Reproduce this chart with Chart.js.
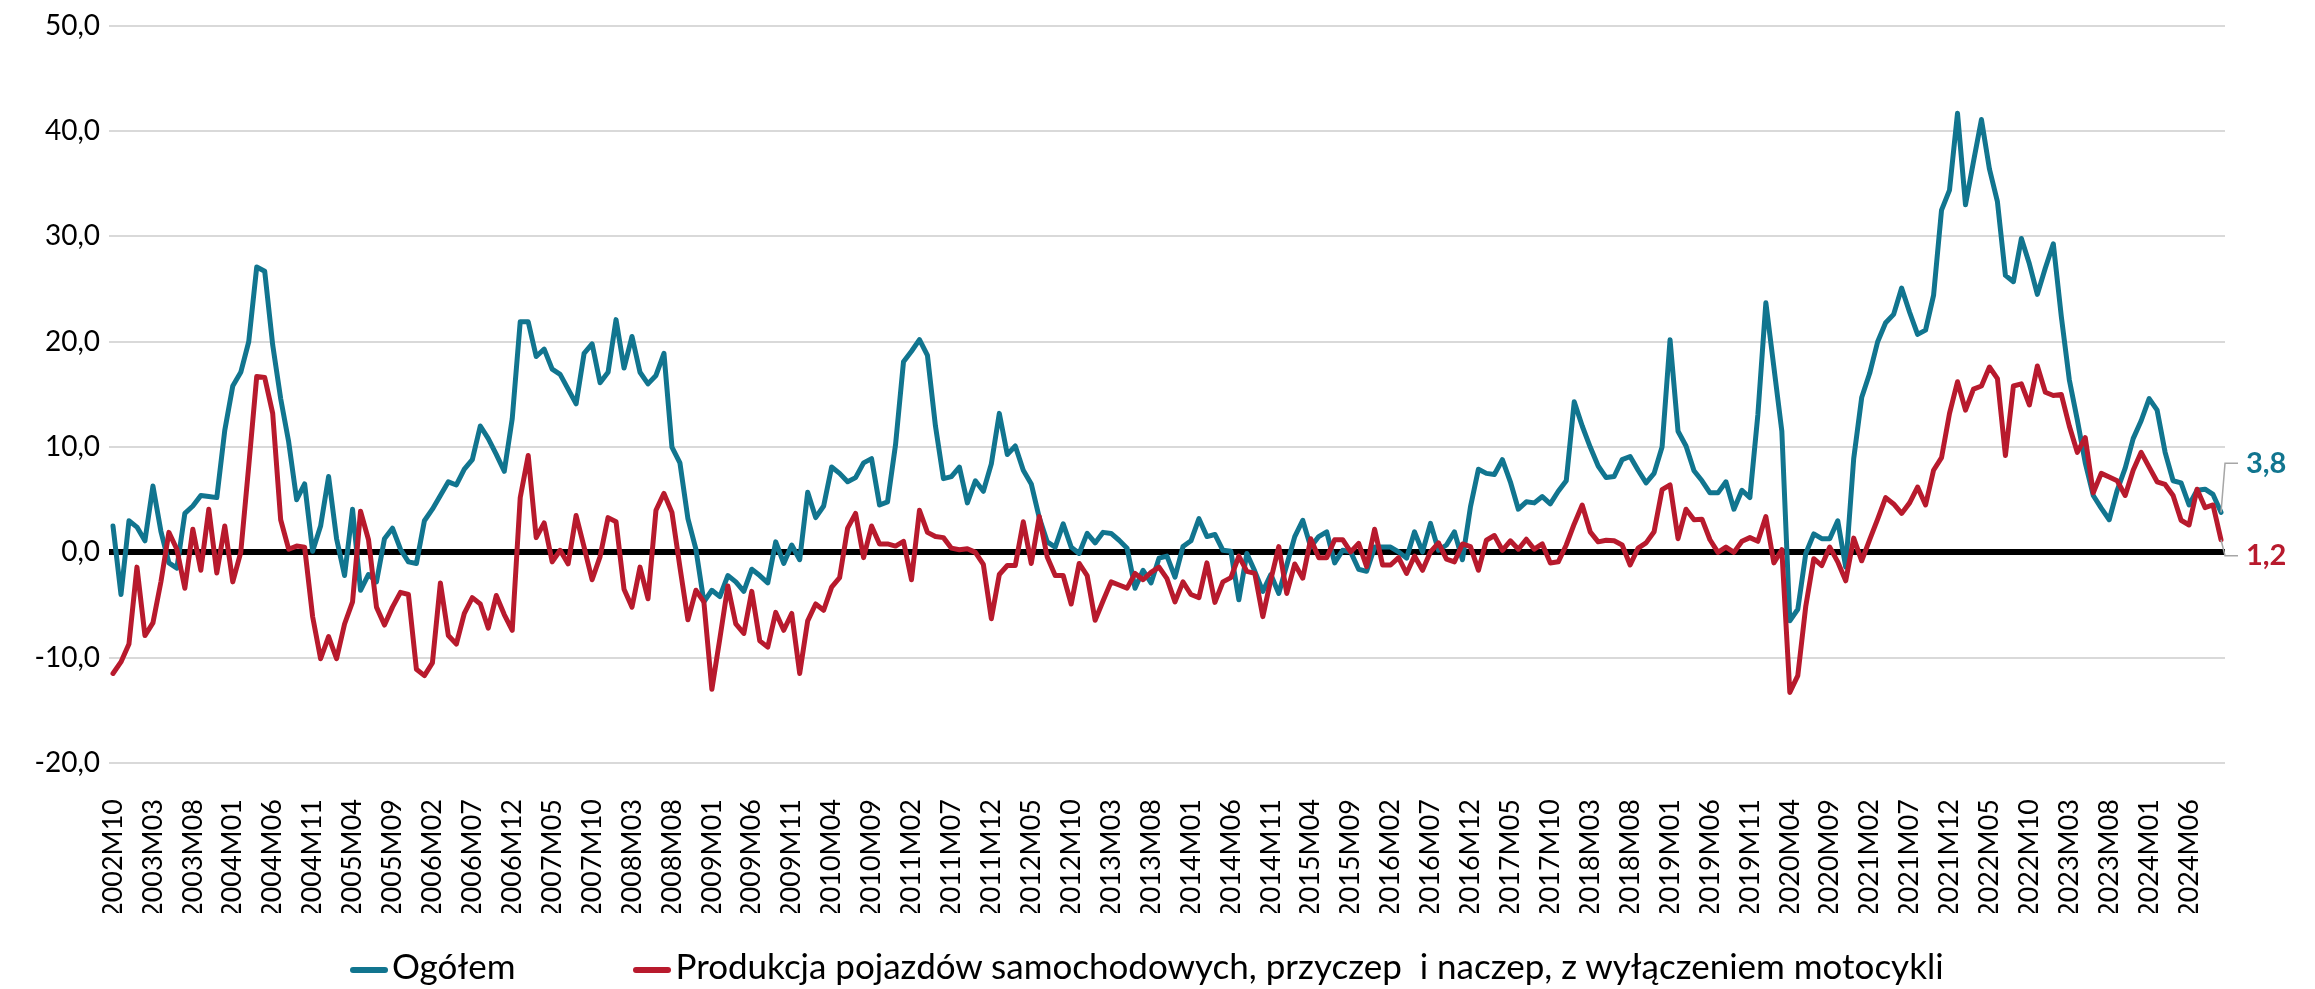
<!DOCTYPE html>
<html lang="pl">
<head>
<meta charset="UTF-8">
<title>Produkcja – dynamika r/r</title>
<script src="https://cdn.jsdelivr.net/npm/chart.js@4.4.1/dist/chart.umd.min.js"></script>
<style>
  html, body { margin: 0; padding: 0; background: #fff; }
  #wrap { position: relative; width: 2315px; height: 989px; }
  #legend {
    position: absolute; left: 350px; top: 943px;
    font-family: Lato, sans-serif; font-size: 35px; color: #000;
    white-space: pre; line-height: 44px;
  }
  .item { display: inline-block; }
  .item + .item { margin-left: 118px; }
  .swatch { display: inline-block; width: 38px; height: 6px; border-radius: 3px; vertical-align: middle; margin-right: 4px; }
</style>
</head>
<body>
<div id="wrap">
  <canvas id="chart" width="2315" height="989"></canvas>
  <div id="legend"></div>
</div>
<script>
// pierwszy miesiąc szeregu
const startYear = 2002;
const startMonth = 10;

// Ogółem, r/r w %
const ogolem = [
  2.5, -4.0, 3.0, 2.4, 1.1, 6.3, 2.0, -1.0, -1.5, 3.7,
  4.4, 5.4, 5.3, 5.2, 11.6, 15.8, 17.1, 20.0, 27.1, 26.7,
  19.7, 14.6, 10.5, 5.0, 6.5, 0.1, 2.5, 7.2, 1.3, -2.2,
  4.1, -3.6, -2.1, -2.8, 1.3, 2.3, 0.3, -0.9, -1.05, 3.0,
  4.1, 5.4, 6.7, 6.4, 7.9, 8.8, 12.0, 10.8, 9.3, 7.7,
  12.7, 21.9, 21.9, 18.6, 19.3, 17.4, 16.9, 15.5, 14.1, 18.9,
  19.8, 16.1, 17.1, 22.1, 17.5, 20.5, 17.1, 16.0, 16.8, 18.9,
  10.0, 8.5, 3.2, 0.3, -4.7, -3.6, -4.2, -2.2, -2.8, -3.7,
  -1.6, -2.2, -2.9, 1.0, -1.05, 0.7, -0.7, 5.7, 3.3, 4.4,
  8.1, 7.5, 6.7, 7.1, 8.5, 8.9, 4.5, 4.8, 10.2, 18.1,
  19.1, 20.2, 18.7, 12.0, 7.0, 7.2, 8.1, 4.7, 6.8, 5.8,
  8.4, 13.2, 9.3, 10.1, 7.8, 6.5, 3.3, 1.0, 0.5, 2.7,
  0.5, -0.1, 1.8, 0.9, 1.9, 1.8, 1.15, 0.4, -3.4, -1.7,
  -2.9, -0.55, -0.35, -2.35, 0.55, 1.1, 3.2, 1.5, 1.7, 0.2,
  0.1, -4.5, -0.1, -1.8, -3.7, -2.1, -3.9, -1.2, 1.5, 3.05,
  0.5, 1.5, 1.95, -1.0, 0.2, 0.05, -1.6, -1.8, 0.5, 0.5,
  0.5, 0.05, -0.55, 1.95, 0.05, 2.75, 0.2, 0.7, 1.95, -0.7,
  4.3, 7.9, 7.5, 7.4, 8.8, 6.7, 4.1, 4.8, 4.7, 5.3,
  4.6, 5.8, 6.8, 14.3, 12.0, 10.0, 8.2, 7.1, 7.2, 8.8,
  9.1, 7.8, 6.6, 7.5, 10.0, 20.2, 11.5, 10.1, 7.75, 6.8,
  5.65, 5.65, 6.7, 4.1, 5.9, 5.2, 13.1, 23.7, 17.6, 11.5,
  -6.5, -5.4, -0.1, 1.75, 1.3, 1.3, 3.0, -1.4, 8.9, 14.7,
  17.0, 20.0, 21.8, 22.6, 25.1, 22.8, 20.7, 21.1, 24.4, 32.5,
  34.4, 41.7, 33.0, 37.1, 41.1, 36.4, 33.3, 26.3, 25.7, 29.8,
  27.4, 24.5, 27.0, 29.3, 22.4, 16.4, 12.6, 8.5, 5.4, 4.2,
  3.1, 5.9, 8.0, 10.8, 12.5, 14.6, 13.5, 9.5, 6.8, 6.6,
  4.5, 5.9, 6.0, 5.5, 3.8
];

// Produkcja pojazdów samochodowych, przyczep i naczep, r/r w %
const pojazdy = [
  -11.5, -10.4, -8.7, -1.4, -7.9, -6.7, -2.8, 1.9, 0.3, -3.4,
  2.2, -1.7, 4.1, -1.95, 2.5, -2.8, 0.0, 8.2, 16.7, 16.6,
  13.2, 3.1, 0.3, 0.6, 0.5, -6.1, -10.1, -8.0, -10.1, -6.8,
  -4.7, 3.9, 1.2, -5.2, -6.9, -5.2, -3.8, -4.0, -11.1, -11.7,
  -10.5, -2.9, -7.9, -8.7, -5.8, -4.3, -4.9, -7.2, -4.1, -5.9,
  -7.4, 5.2, 9.2, 1.4, 2.8, -0.9, 0.2, -1.1, 3.5, 0.5,
  -2.6, -0.4, 3.3, 2.9, -3.5, -5.2, -1.4, -4.4, 4.0, 5.6,
  3.8, -1.4, -6.4, -3.6, -4.7, -13.0, -8.2, -3.2, -6.8, -7.7,
  -3.7, -8.4, -9.0, -5.7, -7.4, -5.8, -11.5, -6.5, -4.9, -5.5,
  -3.3, -2.4, 2.3, 3.7, -0.5, 2.5, 0.8, 0.8, 0.6, 1.05,
  -2.6, 4.0, 1.9, 1.5, 1.4, 0.4, 0.25, 0.35, 0.0, -1.15,
  -6.3, -2.1, -1.25, -1.25, 2.9, -1.05, 3.4, -0.45, -2.2, -2.2,
  -4.9, -1.05, -2.2, -6.45, -4.6, -2.8, -3.1, -3.4, -2.0, -2.6,
  -1.9, -1.4, -2.5, -4.7, -2.8, -4.0, -4.3, -1.0, -4.75, -2.8,
  -2.4, -0.35, -1.8, -2.0, -6.1, -2.6, 0.55, -3.9, -1.1, -2.45,
  1.3, -0.5, -0.5, 1.2, 1.2, 0.05, 0.85, -1.35, 2.2, -1.2,
  -1.2, -0.5, -2.0, -0.35, -1.7, 0.05, 0.9, -0.65, -0.9, 0.8,
  0.55, -1.7, 1.15, 1.6, 0.2, 1.1, 0.3, 1.25, 0.3, 0.8,
  -1.0, -0.9, 0.7, 2.7, 4.5, 1.95, 1.0, 1.15, 1.1, 0.7,
  -1.2, 0.4, 0.9, 1.95, 5.95, 6.4, 1.3, 4.1, 3.1, 3.15,
  1.2, 0.0, 0.5, 0.0, 1.05, 1.4, 1.05, 3.4, -1.0, 0.25,
  -13.3, -11.7, -5.1, -0.6, -1.25, 0.5, -0.9, -2.7, 1.35, -0.8,
  1.2, 3.15, 5.2, 4.6, 3.7, 4.7, 6.2, 4.5, 7.8, 9.0,
  13.2, 16.2, 13.5, 15.5, 15.8, 17.6, 16.5, 9.2, 15.8, 16.0,
  14.0, 17.7, 15.2, 14.9, 15.0, 12.0, 9.5, 10.9, 5.65, 7.5,
  7.15, 6.8, 5.4, 7.8, 9.5, 8.1, 6.7, 6.45, 5.4, 3.05,
  2.6, 6.0, 4.25, 4.5, 1.2
];

const seriesNames = ['Ogółem', 'Produkcja pojazdów samochodowych, przyczep  i naczep, z wyłączeniem motocykli'];
const seriesColors = ['#11758f', '#b81a2d'];
// czerwona seria rysowana na wierzchu
const seriesOrder = [1, 0];

// oś Y
const yMin = -20;
const yMax = 50;
const yStep = 10;

// co który miesiąc podpisywać oś X
const labelEvery = 5;

// przesunięcie etykiet końcowych względem ostatniego punktu (px)
const endLabelShift = [-49, 16];

function buildMonths(count) {
  const months = [];
  let y = startYear;
  let m = startMonth;
  for (let i = 0; i < count; i++) {
    months.push(y + 'M' + String(m).padStart(2, '0'));
    m++;
    if (m > 12) { m = 1; y++; }
  }
  return months;
}

function plNumber(v) {
  return v.toFixed(1).replace('.', ',');
}

// etykiety z ostatnią wartością + szara linia odniesienia
const endLabels = {
  id: 'endLabels',
  afterDatasetsDraw(chart) {
    const ctx = chart.ctx;
    const xs = chart.scales.x;
    const ys = chart.scales.y;
    ctx.save();
    chart.data.datasets.forEach((ds, i) => {
      const last = ds.data.length - 1;
      const px = xs.getPixelForValue(last);
      const py = ys.getPixelForValue(ds.data[last]);
      const ly = py + endLabelShift[i];
      ctx.strokeStyle = '#a6a6a6';
      ctx.lineWidth = 1.5;
      ctx.beginPath();
      ctx.moveTo(px, py);
      ctx.lineTo(px + 4, ly);
      ctx.lineTo(px + 17, ly);
      ctx.stroke();
      ctx.fillStyle = ds.borderColor;
      ctx.font = 'bold 29px Lato, sans-serif';
      ctx.textAlign = 'left';
      ctx.textBaseline = 'middle';
      ctx.fillText(plNumber(ds.data[last]), px + 25, ly);
    });
    ctx.restore();
  }
};

const months = buildMonths(ogolem.length);

const chart = new Chart(document.getElementById('chart'), {
  type: 'line',
  data: {
    labels: months,
    datasets: [ogolem, pojazdy].map((data, i) => ({
      label: seriesNames[i],
      data: data,
      order: seriesOrder[i],
      borderColor: seriesColors[i],
      backgroundColor: seriesColors[i],
      borderWidth: 5,
      pointRadius: 0,
      tension: 0,
      borderJoinStyle: 'round',
      borderCapStyle: 'round'
    }))
  },
  options: {
    responsive: false,
    animation: false,
    devicePixelRatio: 1,
    layout: { padding: { top: 22, right: 90, bottom: 76, left: 0 } },
    plugins: {
      legend: { display: false },
      tooltip: { enabled: false }
    },
    scales: {
      x: {
        offset: true,
        grid: { display: false },
        border: { display: false },
        afterFit(scale) { scale.height = 150; },
        ticks: {
          autoSkip: false,
          maxRotation: 90,
          minRotation: 90,
          padding: 28,
          color: '#000',
          font: { family: 'Lato', size: 27 },
          callback(value, index) {
            return index % labelEvery === 0 ? this.getLabelForValue(value) : '';
          }
        }
      },
      y: {
        min: yMin,
        max: yMax,
        afterFit(scale) { scale.width = 109; },
        border: { display: false },
        grid: {
          drawTicks: false,
          color: ctx => ctx.tick.value === 0 ? '#000' : '#d9d9d9',
          lineWidth: ctx => ctx.tick.value === 0 ? 6 : 2
        },
        ticks: {
          stepSize: yStep,
          padding: 9,
          color: '#000',
          font: { family: 'Lato', size: 28 },
          callback: v => plNumber(v)
        }
      }
    }
  },
  plugins: [endLabels]
});

// legenda pod wykresem
document.getElementById('legend').innerHTML = seriesNames.map((name, i) =>
  `<span class="item"><span class="swatch" style="background:${seriesColors[i]}"></span>${name}</span>`).join('');
</script>
</body>
</html>
